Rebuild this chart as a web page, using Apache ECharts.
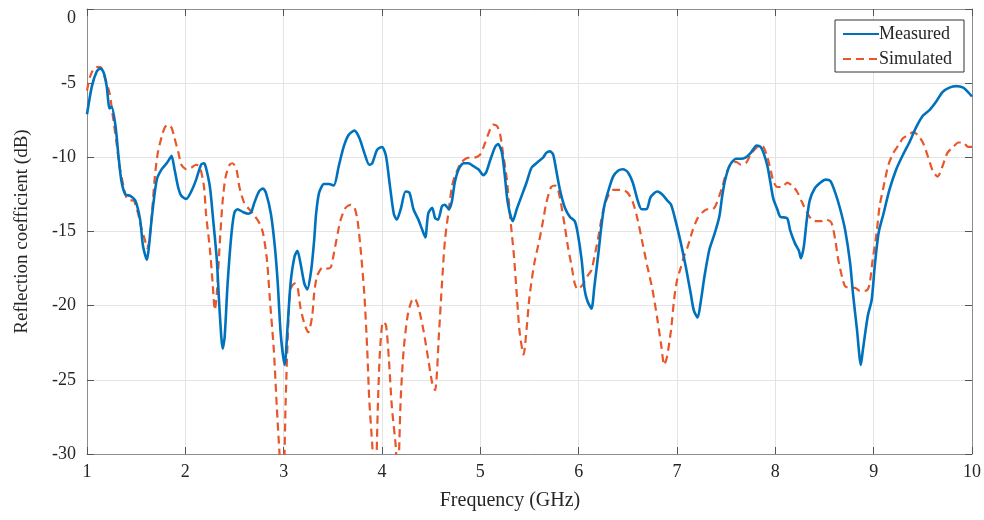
<!DOCTYPE html>
<html>
<head>
<meta charset="utf-8">
<script src="https://cdn.jsdelivr.net/npm/echarts@6/dist/echarts.min.js"></script>
<style>
  html, body { margin: 0; padding: 0; background: #fff; }
  #chart { width: 984px; height: 520px; }
</style>
</head>
<body>
<div id="chart"></div>
<script>
// Reflection coefficient vs frequency: measured and simulated
const measFreq = [1.00,1.05,1.10,1.135,1.17,1.20,1.23,1.25,1.29,1.32,1.35,1.39,1.44,1.49,1.54,1.57,1.61,1.63,1.66,1.71,1.76,1.81,1.84,1.86,1.89,1.93,1.96,2.01,2.06,2.11,2.16,2.19,2.21,2.25,2.28,2.32,2.35,2.38,2.40,2.43,2.47,2.50,2.53,2.59,2.64,2.67,2.70,2.75,2.79,2.82,2.87,2.91,2.94,2.97,3.01,3.04,3.07,3.11,3.14,3.17,3.21,3.24,3.28,3.31,3.33,3.36,3.41,3.46,3.51,3.56,3.61,3.66,3.72,3.77,3.82,3.87,3.90,3.95,4.00,4.04,4.08,4.12,4.15,4.19,4.24,4.28,4.32,4.37,4.41,4.44,4.47,4.51,4.54,4.57,4.61,4.64,4.68,4.71,4.74,4.78,4.83,4.88,4.93,4.98,5.03,5.06,5.10,5.15,5.18,5.22,5.25,5.28,5.33,5.37,5.42,5.47,5.52,5.57,5.64,5.67,5.71,5.74,5.77,5.81,5.86,5.91,5.96,5.99,6.03,6.06,6.09,6.13,6.16,6.20,6.23,6.26,6.30,6.35,6.40,6.45,6.50,6.55,6.60,6.64,6.69,6.73,6.77,6.80,6.85,6.90,6.94,6.99,7.04,7.09,7.14,7.17,7.21,7.24,7.28,7.33,7.38,7.43,7.46,7.49,7.54,7.60,7.65,7.70,7.75,7.81,7.85,7.88,7.92,7.95,7.98,8.02,8.05,8.12,8.15,8.20,8.24,8.26,8.29,8.32,8.35,8.40,8.46,8.51,8.56,8.61,8.66,8.71,8.76,8.79,8.83,8.87,8.89,8.94,8.98,9.01,9.05,9.10,9.16,9.23,9.30,9.37,9.43,9.50,9.57,9.64,9.70,9.77,9.84,9.91,9.96,10.0];
const measDb = [-7.1,-5.2,-4.2,-4.0,-4.3,-5.2,-6.7,-6.6,-7.9,-9.9,-11.6,-12.5,-12.6,-12.9,-14.2,-16.0,-16.9,-16.0,-14.0,-11.5,-10.8,-10.4,-10.1,-9.9,-10.8,-12.1,-12.6,-12.8,-12.3,-11.5,-10.5,-10.4,-10.7,-12.0,-14.0,-16.9,-20.5,-22.9,-22.1,-18.5,-15.1,-13.7,-13.5,-13.7,-13.8,-13.7,-13.1,-12.3,-12.1,-12.4,-13.8,-16.0,-18.5,-21.9,-24.0,-21.4,-18.5,-16.7,-16.3,-17.1,-18.5,-18.9,-17.6,-15.6,-13.8,-12.4,-11.8,-11.8,-11.9,-10.6,-9.3,-8.5,-8.2,-8.7,-9.7,-10.5,-10.4,-9.5,-9.3,-9.9,-11.9,-13.8,-14.2,-13.5,-12.3,-12.4,-13.5,-14.2,-14.9,-15.4,-13.8,-13.4,-14.1,-14.2,-13.3,-13.2,-13.5,-13.0,-11.7,-10.8,-10.4,-10.4,-10.6,-10.8,-11.2,-11.0,-10.2,-9.3,-9.1,-9.7,-11.3,-13.1,-14.3,-13.5,-12.6,-11.7,-10.7,-10.4,-10.0,-9.7,-9.6,-9.8,-10.8,-12.2,-13.4,-14.0,-14.3,-15.1,-16.9,-18.9,-19.7,-20.2,-18.7,-16.5,-14.7,-13.3,-12.3,-11.3,-10.9,-10.8,-11.0,-11.7,-12.9,-13.5,-13.5,-12.7,-12.4,-12.3,-12.5,-12.9,-13.2,-14.4,-15.8,-17.4,-19.2,-20.3,-20.8,-19.8,-18.0,-16.2,-15.2,-14.0,-12.6,-11.5,-10.5,-10.1,-10.1,-10.0,-9.7,-9.2,-9.3,-9.7,-10.6,-11.7,-12.8,-13.5,-14.0,-14.1,-14.9,-15.8,-16.3,-16.8,-16.0,-14.2,-12.9,-12.1,-11.7,-11.5,-11.6,-12.4,-13.5,-14.9,-17.1,-19.2,-21.6,-24.0,-23.0,-20.7,-19.6,-17.4,-15.1,-13.8,-12.2,-10.8,-9.8,-8.9,-8.0,-7.2,-6.8,-6.2,-5.6,-5.3,-5.2,-5.3,-5.6,-5.9];

const simFreq = [1.00,1.03,1.07,1.12,1.15,1.18,1.23,1.26,1.30,1.33,1.37,1.40,1.44,1.47,1.52,1.55,1.59,1.61,1.63,1.66,1.69,1.72,1.76,1.79,1.82,1.86,1.89,1.93,1.96,2.01,2.06,2.11,2.15,2.19,2.21,2.25,2.28,2.30,2.32,2.35,2.38,2.41,2.45,2.48,2.52,2.55,2.60,2.65,2.70,2.75,2.79,2.83,2.86,2.90,2.93,2.96,2.99,3.005,3.02,3.05,3.07,3.11,3.14,3.17,3.21,3.25,3.29,3.31,3.34,3.40,3.45,3.48,3.51,3.55,3.58,3.63,3.68,3.72,3.75,3.78,3.82,3.85,3.87,3.90,3.93,3.96,3.98,4.01,4.04,4.07,4.10,4.14,4.16,4.19,4.22,4.26,4.30,4.33,4.37,4.42,4.47,4.51,4.54,4.58,4.61,4.64,4.68,4.71,4.74,4.80,4.85,4.90,4.95,5.00,5.05,5.10,5.13,5.17,5.20,5.23,5.27,5.30,5.34,5.37,5.40,5.44,5.47,5.50,5.55,5.60,5.64,5.67,5.72,5.76,5.79,5.82,5.86,5.89,5.93,5.96,5.99,6.04,6.09,6.13,6.16,6.20,6.23,6.26,6.30,6.35,6.40,6.45,6.50,6.55,6.60,6.65,6.70,6.75,6.80,6.84,6.87,6.90,6.94,6.97,7.00,7.04,7.07,7.11,7.16,7.21,7.26,7.31,7.36,7.39,7.43,7.46,7.49,7.54,7.60,7.65,7.70,7.75,7.80,7.85,7.88,7.92,7.95,7.98,8.02,8.07,8.12,8.17,8.22,8.27,8.32,8.37,8.42,8.47,8.52,8.57,8.61,8.64,8.68,8.71,8.76,8.81,8.86,8.91,8.94,8.96,8.99,9.03,9.06,9.10,9.15,9.20,9.25,9.30,9.35,9.40,9.45,9.50,9.55,9.60,9.65,9.70,9.75,9.81,9.86,9.91,9.96,10.0];
const simDb = [-5.5,-4.6,-4.0,-3.9,-4.0,-4.6,-5.7,-7.1,-9.0,-10.6,-11.9,-12.7,-12.9,-12.9,-13.8,-14.7,-15.6,-16.1,-15.8,-13.8,-11.3,-9.7,-8.6,-8.0,-7.8,-8.0,-8.7,-9.7,-10.5,-10.8,-10.7,-10.5,-10.7,-12.0,-13.8,-16.2,-18.7,-20.3,-19.2,-15.8,-12.9,-11.3,-10.5,-10.4,-10.8,-12.0,-13.1,-13.5,-13.9,-14.4,-15.1,-16.9,-19.6,-23.0,-26.8,-30.2,-33.0,-31.0,-26.5,-20.7,-18.9,-18.5,-18.7,-20.1,-21.2,-21.8,-20.7,-19.2,-18.0,-17.4,-17.5,-17.4,-16.5,-15.1,-14.2,-13.4,-13.2,-13.4,-14.2,-16.0,-19.2,-23.0,-26.3,-29.3,-32.5,-26.3,-23.0,-21.1,-21.3,-23.6,-26.8,-29.5,-32.0,-26.3,-23.0,-20.7,-19.7,-19.5,-20.1,-21.6,-23.6,-25.2,-25.7,-21.8,-18.5,-15.6,-13.5,-12.0,-11.3,-10.4,-10.1,-10.0,-10.0,-9.8,-9.0,-8.1,-7.8,-7.9,-8.4,-9.7,-11.5,-13.8,-16.5,-19.2,-21.8,-23.3,-21.6,-19.4,-17.1,-15.6,-14.2,-13.1,-12.0,-11.9,-12.2,-13.1,-14.7,-16.0,-17.4,-18.5,-18.9,-18.6,-18.0,-17.6,-16.7,-15.4,-14.2,-13.3,-12.6,-12.2,-12.2,-12.2,-12.4,-13.0,-14.2,-15.8,-17.4,-18.9,-20.9,-22.7,-24.0,-23.4,-21.6,-19.6,-18.3,-17.4,-16.7,-16.0,-14.9,-14.1,-13.7,-13.5,-13.5,-13.3,-12.6,-12.0,-11.3,-10.5,-10.3,-10.5,-10.4,-9.8,-9.4,-9.2,-9.3,-10.0,-10.8,-11.6,-12.0,-12.0,-11.7,-11.9,-12.3,-13.0,-13.7,-14.2,-14.3,-14.3,-14.2,-14.4,-15.6,-16.9,-18.1,-18.7,-18.8,-18.8,-19.0,-19.0,-18.9,-18.5,-16.9,-15.1,-13.3,-12.0,-10.5,-9.7,-9.2,-8.7,-8.5,-8.3,-8.5,-9.0,-9.9,-10.9,-11.3,-10.6,-9.7,-9.3,-9.0,-9.0,-9.3,-9.3];

const seriesNames = ['Measured', 'Simulated'];
const xTicks = { min: 1, max: 10, step: 1 };
const yTicks = { min: -30, max: 0, step: 5 };

const pairs = (xs, ys) => xs.map((x, i) => [x, ys[i]]);

const FONT = '"Liberation Serif", "DejaVu Serif", serif';
const TEXT = '#262626';
const BOX = '#8c8c8c';
const GRIDC = '#e4e4e4';
const BLUE = '#0072BD';
const ORANGE = '#E8562A';

const chart = echarts.init(document.getElementById('chart'), null, { renderer: 'canvas' });

const baseX = {
  type: 'value', min: xTicks.min, max: xTicks.max, interval: xTicks.step,
  axisLine: { show: true, onZero: false, lineStyle: { color: BOX, width: 1 } },
  axisTick: { show: true, inside: true, length: 7, lineStyle: { color: '#555' } },
};
const baseY = {
  type: 'value', min: yTicks.min, max: yTicks.max, interval: yTicks.step,
  axisLine: { show: true, onZero: false, lineStyle: { color: BOX, width: 1 } },
  axisTick: { show: true, inside: true, length: 7, lineStyle: { color: '#555' } },
};

chart.setOption({
  animation: false,
  backgroundColor: '#fff',
  textStyle: { fontFamily: FONT },
  grid: { left: 87, right: 8, top: 9, bottom: 66, containLabel: false },
  xAxis: [
    Object.assign({}, baseX, {
      position: 'bottom',
      name: 'Frequency (GHz)', nameLocation: 'middle', nameGap: 37,
      nameTextStyle: { fontFamily: FONT, fontSize: 20, color: TEXT, padding: [0, 39, 0, 0] },
      axisLabel: { fontFamily: FONT, fontSize: 18, color: TEXT, margin: 9 },
      splitLine: { show: true, lineStyle: { color: GRIDC, width: 1 } }
    }),
    Object.assign({}, baseX, {
      position: 'top', axisLabel: { show: false }, splitLine: { show: false }
    })
  ],
  yAxis: [
    Object.assign({}, baseY, {
      position: 'left',
      name: 'Reflection coefficient (dB)', nameLocation: 'middle', nameGap: 55,
      nameRotate: 90,
      nameTextStyle: { fontFamily: FONT, fontSize: 19, color: TEXT },
      axisLabel: { fontFamily: FONT, fontSize: 18, color: TEXT, margin: 11,
                   verticalAlignMaxLabel: 'top' },
      splitLine: { show: true, lineStyle: { color: GRIDC, width: 1 } }
    }),
    Object.assign({}, baseY, {
      position: 'right', axisLabel: { show: false }, splitLine: { show: false }
    })
  ],
  legend: {
    data: seriesNames,
    orient: 'vertical',
    right: 20, top: 20,
    itemWidth: 36, itemHeight: 18, itemGap: 7,
    padding: [5, 12, 4, 7],
    borderColor: '#333', borderWidth: 1, borderRadius: 0,
    backgroundColor: '#fff',
    itemStyle: { opacity: 0 },
    textStyle: { fontFamily: FONT, fontSize: 18, color: TEXT, padding: [0, 0, 0, -5] }
  },
  series: [
    {
      name: seriesNames[0], type: 'line', xAxisIndex: 0, yAxisIndex: 0,
      data: pairs(measFreq, measDb),
      smooth: 0.25, showSymbol: false, symbol: 'none', clip: true, z: 3,
      lineStyle: { color: BLUE, width: 2.6 },
      itemStyle: { color: BLUE }
    },
    {
      name: seriesNames[1], type: 'line', xAxisIndex: 0, yAxisIndex: 0,
      data: pairs(simFreq, simDb),
      smooth: 0.25, showSymbol: false, symbol: 'none', clip: true, z: 2,
      lineStyle: { color: ORANGE, width: 2.2, type: [8, 5] },
      itemStyle: { color: ORANGE }
    }
  ]
});
</script>
</body>
</html>
